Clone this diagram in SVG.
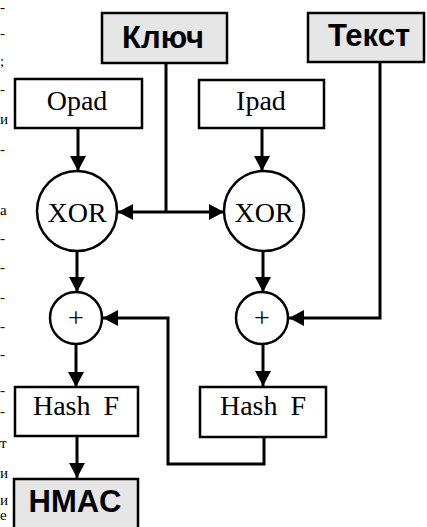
<svg xmlns="http://www.w3.org/2000/svg" width="427" height="527" viewBox="0 0 427 527">
<style>
.box{fill:#fff;stroke:#000;stroke-width:2.5}
.gbox{fill:#e6e6e6;stroke:#000;stroke-width:2.5}
.circ{fill:#fff;stroke:#000;stroke-width:2.5}
.serif{font-family:"Liberation Serif","Times New Roman",serif;font-size:28px;fill:#000;text-anchor:middle}
.bold{font-family:"Liberation Sans",Arial,sans-serif;font-size:31px;font-weight:bold;fill:#000;text-anchor:middle}
.edge{font-family:"Liberation Serif","Times New Roman",serif;font-size:15px;fill:#000;text-anchor:start}
.con{fill:none;stroke:#000;stroke-width:3}
.arr{marker-end:url(#ah)}
</style>
<defs>
<marker id="ah" markerUnits="userSpaceOnUse" viewBox="0 0 15 16" refX="15" refY="8" markerWidth="15" markerHeight="16" orient="auto">
<path d="M0,0 L15,8 L0,16 Z" fill="#000"/>
</marker>
</defs>
<rect width="427" height="527" fill="#fff"/>
<g id="page-edge">
<text class="edge" x="0" y="12">-</text>
<text class="edge" x="0" y="38">-</text>
<text class="edge" x="0" y="66">;</text>
<text class="edge" x="0" y="94">-</text>
<text class="edge" x="0" y="124">и</text>
<text class="edge" x="0" y="154">-</text>
<text class="edge" x="0" y="215">а</text>
<text class="edge" x="0" y="243">-</text>
<text class="edge" x="0" y="272">-</text>
<text class="edge" x="0" y="302">-</text>
<text class="edge" x="0" y="331">-</text>
<text class="edge" x="0" y="359">-</text>
<text class="edge" x="0" y="395">-</text>
<text class="edge" x="0" y="416">-</text>
<text class="edge" x="0" y="448">т</text>
<text class="edge" x="0" y="478">и</text>
<text class="edge" x="0" y="505">и</text>
<text class="edge" x="0" y="520">е</text>
</g>
<g id="connectors">
<path class="con arr" d="M78,128 V171"/>
<path class="con arr" d="M262,128 V171"/>
<path class="con" d="M166,63 V212"/>
<path class="con arr" d="M166,212 H118"/>
<path class="con arr" d="M166,212 H224"/>
<path class="con arr" d="M77,251 V292"/>
<path class="con arr" d="M263,251 V292"/>
<path class="con arr" d="M380,62 V318 H289"/>
<path class="con arr" d="M76,344 V387"/>
<path class="con arr" d="M263,344 V386"/>
<path class="con arr" d="M264,437 V464 H168 V318 H103"/>
<path class="con arr" d="M77,436 V478"/>
</g>
<g id="key">
<rect class="gbox" x="102" y="13" width="125" height="50"/>
<text class="bold" x="163" y="48">Ключ</text>
</g>
<g id="text">
<rect class="gbox" x="308" y="13" width="116" height="49"/>
<text class="bold" x="369" y="46">Текст</text>
</g>
<g id="opad">
<rect class="box" x="15" y="79" width="127" height="49"/>
<text class="serif" x="77" y="110">Opad</text>
</g>
<g id="ipad">
<rect class="box" x="199" y="80" width="125" height="48"/>
<text class="serif" x="261" y="110">Ipad</text>
</g>
<g id="xor-left">
<circle class="circ" cx="77" cy="211" r="40"/>
<text class="serif" x="77" y="222">XOR</text>
</g>
<g id="xor-right">
<circle class="circ" cx="264" cy="211" r="40"/>
<text class="serif" x="264" y="222">XOR</text>
</g>
<g id="plus-left">
<circle class="circ" cx="76" cy="318" r="26"/>
<text class="serif" x="76" y="327">+</text>
</g>
<g id="plus-right">
<circle class="circ" cx="262" cy="318" r="26"/>
<text class="serif" x="262" y="327">+</text>
</g>
<g id="hash-left">
<rect class="box" x="15" y="387" width="123" height="49"/>
<text class="serif" x="76" y="415" word-spacing="6">Hash F</text>
</g>
<g id="hash-right">
<rect class="box" x="200" y="387" width="126" height="50"/>
<text class="serif" x="263" y="415" word-spacing="6">Hash F</text>
</g>
<g id="hmac">
<rect class="gbox" x="14" y="479" width="124" height="56"/>
<text class="bold" x="75" y="512">HMAC</text>
</g>
</svg>
